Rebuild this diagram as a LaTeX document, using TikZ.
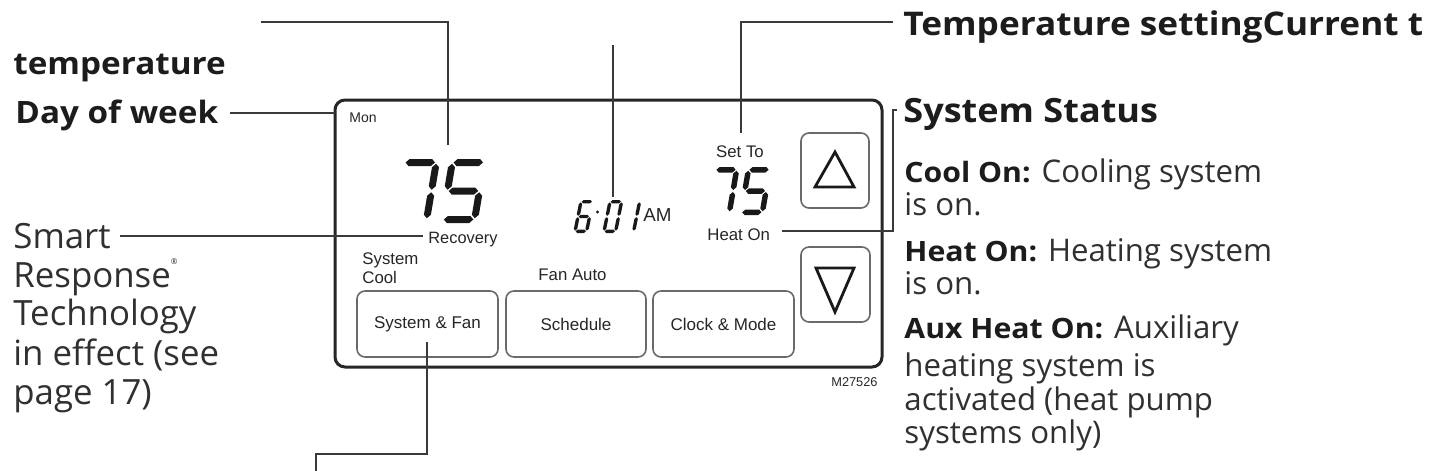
\documentclass[tikz,border=0pt]{standalone}
\usepackage{fontspec}
\setmainfont{Liberation Sans}
\newfontfamily\osreg{Open Sans}
\newfontfamily\osbold{Open Sans}[FakeStretch=1.08]
\definecolor{ink}{HTML}{1C1C1C}
\definecolor{body}{HTML}{303030}
\definecolor{leadc}{HTML}{3A3A3A}
\definecolor{framec}{HTML}{262626}
\definecolor{btnc}{HTML}{6A6A6A}

\tikzset{
  lead/.style={draw=leadc, line width=0.9pt},
  hb/.style={font=\osbold\bfseries\fontsize{15.4}{18}\selectfont, text=ink, inner sep=0pt, anchor=base west},
  hbr/.style={font=\osbold\bfseries\fontsize{16.7}{19}\selectfont, text=ink, inner sep=0pt, anchor=base west},
  lbody/.style={font=\osreg\fontsize{17.4}{19.5}\selectfont, text=body, inner sep=0pt, anchor=base west},
  rbody/.style={font=\osreg\fontsize{15.6}{18}\selectfont, text=body, inner sep=0pt, anchor=base west},
  lcd/.style={font=\fontsize{8.4}{10}\selectfont, text=black!85, inner sep=0pt},
  btn/.style={draw=btnc, line width=0.8pt, rounded corners=4pt, font=\fontsize{8.5}{10}\selectfont, text=black!85, inner sep=0pt},
  frame/.style={draw=framec, line width=1.5pt, rounded corners=5pt, inner sep=0pt},
  tri/.style={draw=black!90, line width=1.4pt, line join=miter},
  segfill/.style={fill=black!90},
}
\newcommand\rb[1]{{\osbold\bfseries\fontsize{14}{17}\selectfont\color{ink}#1}}

% seven-segment digits
\newcommand\sghseg[3]{\path[dseg] (#1,#3) -- ({#1+\sgT/2},{#3-\sgT/2}) -- ({#2-\sgT/2},{#3-\sgT/2}) -- (#2,#3) -- ({#2-\sgT/2},{#3+\sgT/2}) -- ({#1+\sgT/2},{#3+\sgT/2}) -- cycle;}
\newcommand\sgvseg[3]{\path[dseg] (#1,#2) -- ({#1+\sgT/2},{#2+\sgT/2}) -- ({#1+\sgT/2},{#3-\sgT/2}) -- (#1,#3) -- ({#1-\sgT/2},{#3-\sgT/2}) -- ({#1-\sgT/2},{#2+\sgT/2}) -- cycle;}
\newcommand\dsega{\sghseg{\sgL+\sgG}{\sgR-\sgG}{\sgTop}}
\newcommand\dsegb{\sgvseg{\sgR}{\sgTop+\sgG}{\sgMid-\sgG}}
\newcommand\dsegc{\sgvseg{\sgR}{\sgMid+\sgG}{\sgBot-\sgG}}
\newcommand\dsegd{\sghseg{\sgL+\sgG}{\sgR-\sgG}{\sgBot}}
\newcommand\dsege{\sgvseg{\sgL}{\sgMid+\sgG}{\sgBot-\sgG}}
\newcommand\dsegf{\sgvseg{\sgL}{\sgTop+\sgG}{\sgMid-\sgG}}
\newcommand\dsegg{\sghseg{\sgL+\sgG}{\sgR-\sgG}{\sgMid}}
% x0, y0(baseline), W, H, T, slant, segments, style
\newcommand\sgdigit[8]{%
  \begin{scope}[shift={(#1,#2)}, xslant=#6]
    \tikzset{dseg/.style={#8}}
    \pgfmathsetmacro\sgT{#5}\pgfmathsetmacro\sgG{max(0.7,#5*0.18)}
    \pgfmathsetmacro\sgL{#5/2}\pgfmathsetmacro\sgR{#3-#5/2}
    \pgfmathsetmacro\sgTop{-#4+#5/2}\pgfmathsetmacro\sgMid{-#4/2}\pgfmathsetmacro\sgBot{-#5/2}
    \foreach \s in {#7}{\csname dseg\s\endcsname}
  \end{scope}}

\begin{document}
\begin{tikzpicture}[x=0.5pt,y=-0.5pt]
\useasboundingbox[fill=white] (0,0) rectangle (1432,471);

% ---- thermostat body
\node[frame, minimum width=273.5pt, minimum height=133.5pt] (thermo) at (608.5,233.5) {};

% buttons
\node[btn, minimum width=70.5pt, minimum height=33pt] (bsf) at (427.5,324) {System \& Fan};
\node[btn, minimum width=70pt, minimum height=33pt] (bsch) at (576,324) {Schedule};
\node[btn, minimum width=70.5pt, minimum height=33pt] (bclk) at (723.5,324) {Clock \& Mode};
\node[btn, minimum width=34pt, minimum height=37.5pt] (bup) at (835,170.5) {};
\node[btn, minimum width=34.5pt, minimum height=37.5pt] (bdn) at (835.5,284.5) {};
\draw[tri] (835,152) -- (854,187) -- (815,187) -- cycle;
\draw[tri] (816,268) -- (854,268) -- (835,312) -- cycle;

% display texts
\node[lcd, anchor=base west, font=\fontsize{7}{8}\selectfont] (mon) at (349,122) {Mon};
\node[lcd, anchor=base west, font=\fontsize{8.2}{10}\selectfont] (recov) at (428,243) {Recovery};
\node[lcd, anchor=base west] (sys1) at (362,264) {System};
\node[lcd, anchor=base west] (sys2) at (362,283) {Cool};
\node[lcd, anchor=base west] (fan) at (538,280) {Fan Auto};
\node[lcd, anchor=base] (setto) at (740,157) {Set To};
\node[lcd, anchor=base west] (heaton) at (707,240) {Heat On};
\node[lcd, anchor=base west, font=\fontsize{9.4}{10}\selectfont] (am) at (643,221) {AM};
\node[lcd, anchor=base east, font=\fontsize{6.4}{8}\selectfont] (mnum) at (878,386) {M27526};

% big 75
\sgdigit{390.5}{223}{39}{64}{7}{0.17}{a,b,c}{segfill}
\sgdigit{438.5}{223}{39}{64}{7}{0.17}{a,f,g,c,d}{segfill}
% small 75 (set point)
\sgdigit{705}{215}{26.7}{48}{5.5}{0.17}{a,b,c}{segfill}
\sgdigit{738}{215}{26.7}{48}{5.5}{0.17}{a,f,g,c,d}{segfill}
% 6:01
\sgdigit{573}{233}{15}{33}{3.4}{0.2}{a,f,g,e,d,c}{segfill}
\sgdigit{602}{233}{15}{33}{3.4}{0.2}{a,b,c,d,e,f}{segfill}
\sgdigit{620}{233}{15}{33}{3.4}{0.2}{b,c}{segfill}
\fill[black!90] (597.5,212) circle (1.7);

% ---- callout texts
\node[hb] (temp) at (13,75) {temperature};
\node[hb] (dow) at (15,123) {Day of week};
\node[hbr, font=\osbold\bfseries\fontsize{16.3}{19}\selectfont] (tset) at (903,35) {Temperature settingCurrent t};
\node[hbr] (sstat) at (903,122) {System Status};

\node[lbody] (sm1) at (13,248) {Smart};
\node[lbody] (sm2) at (13,287) {Response\raisebox{1.2ex}{\fontsize{4}{4}\selectfont ®}};
\node[lbody] (sm3) at (13,325) {Technology};
\node[lbody] (sm4) at (13,365) {in effect (see};
\node[lbody] (sm5) at (13,404) {page 17)};

\node[rbody] (r1) at (904,182) {\rb{Cool On:} Cooling system};
\node[rbody] (r2) at (904,215) {is on.};
\node[rbody] (r3) at (904,261) {\rb{Heat On:} Heating system};
\node[rbody] (r4) at (904,294) {is on.};
\node[rbody] (r5) at (904,338) {\rb{Aux Heat On:} Auxiliary};
\node[rbody] (r6) at (904,376) {heating system is};
\node[rbody] (r7) at (904,410) {activated (heat pump};
\node[rbody] (r8) at (904,443) {systems only)};

% ---- leader coordinates
\coordinate (tlA) at (261,22);
\coordinate (tlB) at (448,22);
\coordinate (tlC) at (448,145);
\coordinate (dwA) at (230,113);
\coordinate (dwB) at (335,113);
\coordinate (ckA) at (613,45);
\coordinate (ckB) at (613,197);
\coordinate (stA) at (893,22);
\coordinate (stB) at (741,22);
\coordinate (stC) at (741,133);
\coordinate (smA) at (120,236);
\coordinate (smB) at (423,236);
\coordinate (hoA) at (782,231);
\coordinate (hoB) at (893,231);
\coordinate (hoC) at (893,110);
\coordinate (hoD) at (897,110);
\coordinate (sfA) at (427,342);
\coordinate (sfB) at (427,454);
\coordinate (sfC) at (316,454);
\coordinate (sfD) at (316,476);

\draw[lead] (tlA) -- (tlB) -- (tlC);
\draw[lead] (dwA) -- (dwB);
\draw[lead] (ckA) -- (ckB);
\draw[lead] (stA) -- (stB) -- (stC);
\draw[lead] (smA) -- (smB);
\draw[lead] (hoA) -- (hoB) -- (hoC) -- (hoD);
\draw[lead] (sfA) -- (sfB) -- (sfC) -- (sfD);
\end{tikzpicture}
\end{document}
